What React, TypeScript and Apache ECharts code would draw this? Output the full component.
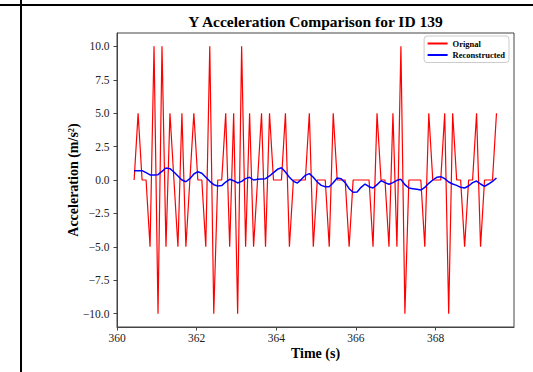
import React, { useEffect, useRef } from "react";
import * as echarts from "echarts";

const chartTitle = "Y Acceleration Comparison for ID 139";
const xAxisName = "Time (s)";
const yAxisName = "Acceleration (m/s²)";
const seriesNames = ["Orignal", "Reconstructed"];

// sampling grid of the recording (10 Hz)
const startTime = 360.43;
const sampleStep = 0.1;

const original = [
  0, 5, 0, 0, -5, 10, -10, 10, -5, 5,
  0, -5, 5, -5, 0, 5, 0, 0, -5, 10,
  -10, 0, 0, 5, -5, 5, -10, 10, -5, 5,
  -5, 0, 5, -5, 5, 0, 0, 0, 5, -5,
  0, 0, 0, 0, 5, -5, 0, 0, 0, -5,
  5, 0, 0, 0, -5, 0, 0, 0, 0, 0,
  -5, 5, 0, 0, -5, 5, -5, 10, -10, 0,
  0, 0, 0, -5, 5, 0, 0, 0, 5, -10,
  5, 0, 0, -5, 0, 0, 5, -5, 0, 0,
  0, 5,
];

const reconstructed = [
  0.7, 0.7, 0.7, 0.55, 0.38, 0.38, 0.4, 0.65, 0.9, 0.85,
  0.6, 0.3, 0.0, -0.13, 0.1, 0.45, 0.62, 0.5, 0.2, -0.1,
  -0.35, -0.45, -0.42, -0.15, 0.05, -0.05, -0.22, -0.1, 0.1, 0.2,
  0.0, 0.05, 0.08, 0.1, 0.3, 0.55, 0.8, 0.92, 0.6, 0.2,
  -0.1, -0.22, 0.05, 0.35, 0.48, 0.2, -0.15, -0.4, -0.5, -0.5,
  -0.2, 0.15, 0.1, -0.2, -0.65, -0.92, -0.9, -0.55, -0.3, -0.5,
  -0.6, -0.35, -0.05, -0.2, -0.32, -0.2, -0.02, 0.05, -0.35, -0.6,
  -0.65, -0.7, -0.75, -0.55, -0.25, 0.0, 0.2, 0.25, 0.1, -0.15,
  -0.3, -0.4, -0.55, -0.6, -0.45, -0.2, -0.08, -0.3, -0.48, -0.3,
  -0.1, 0.15,
];

const xTicks = [360, 362, 364, 366, 368];
const yTicks = [-10, -7.5, -5, -2.5, 0, 2.5, 5, 7.5, 10];

const serif = "'Liberation Serif', 'DejaVu Serif', serif";

export default function App() {
  const ref = useRef<HTMLDivElement>(null);

  useEffect(() => {
    if (!ref.current) return;
    const chart = echarts.init(ref.current, null, { renderer: "svg" });
    const times = original.map((_, i) => +(startTime + i * sampleStep).toFixed(2));
    const origData = original.map((v, i) => [times[i], v]);
    const recData = reconstructed.map((v, i) => [times[i], v]);

    const fmtY = (v: number) => (v < 0 ? "\u2212" : "") + Math.abs(v).toFixed(1);

    chart.setOption({
      animation: false,
      backgroundColor: "#fff",
      color: ["#ff0000", "#0000ff"],
      graphic: [
        { type: "line", shape: { x1: 0, y1: 5, x2: 533, y2: 5 }, style: { stroke: "#000", lineWidth: 2 } },
        { type: "line", shape: { x1: 21, y1: 0, x2: 21, y2: 372 }, style: { stroke: "#000", lineWidth: 2 } },
        {
          type: "text",
          x: 315.5,
          y: 21,
          style: {
            text: chartTitle,
            fontFamily: serif,
            fontWeight: "bold",
            fontSize: 15.5,
            fill: "#000",
            align: "center",
            verticalAlign: "middle",
          },
        },
      ],
      grid: {
        left: 117,
        top: 33,
        width: 397,
        height: 294,
        show: true,
        borderColor: "#444",
        borderWidth: 1,
        backgroundColor: "transparent",
      },
      legend: {
        orient: "vertical",
        right: 24,
        top: 36,
        icon: "rect",
        itemWidth: 20,
        itemHeight: 2,
        itemGap: 2.5,
        padding: [3, 4, 3, 3.5],
        backgroundColor: "rgba(255,255,255,0.8)",
        borderColor: "#ccc",
        borderWidth: 1,
        borderRadius: 3,
        textStyle: { fontFamily: serif, fontWeight: "bold", fontSize: 8.5, color: "#000" },
        data: seriesNames,
      },
      xAxis: {
        type: "value",
        min: 360,
        max: 369.97,
        name: xAxisName,
        nameLocation: "middle",
        nameGap: 19,
        nameMoveOverlap: false,
        nameTextStyle: { fontFamily: serif, fontWeight: "bold", fontSize: 14, color: "#000" },
        axisLine: { show: true, onZero: false, lineStyle: { color: "#444", width: 1 } },
        axisTick: { show: true, length: 3.5, lineStyle: { color: "#444" }, customValues: xTicks },
        axisLabel: { customValues: xTicks, fontFamily: serif, fontSize: 11.5, color: "#222", margin: 5 },
        splitLine: { show: false },
      },
      yAxis: {
        type: "value",
        min: -11,
        max: 11,
        name: yAxisName,
        nameLocation: "middle",
        nameRotate: 90,
        nameGap: 37,
        nameMoveOverlap: false,
        nameTextStyle: { fontFamily: serif, fontWeight: "bold", fontSize: 14, color: "#000" },
        axisLine: { show: true, onZero: false, lineStyle: { color: "#444", width: 1 } },
        axisTick: { show: true, length: 3.5, lineStyle: { color: "#444" }, customValues: yTicks },
        axisLabel: {
          customValues: yTicks,
          fontFamily: serif,
          fontSize: 11.5,
          color: "#222",
          margin: 7.5,
          formatter: (v: number) => fmtY(v),
        },
        splitLine: { show: false },
      },
      series: [
        {
          name: seriesNames[0],
          type: "line",
          data: origData,
          showSymbol: false,
          symbol: "none",
          lineStyle: { color: "#ff0000", width: 1.2 },
          itemStyle: { color: "#ff0000" },
        },
        {
          name: seriesNames[1],
          type: "line",
          data: recData,
          showSymbol: false,
          symbol: "none",
          lineStyle: { color: "#0000ff", width: 1.5 },
          itemStyle: { color: "#0000ff" },
          z: 3,
        },
      ],
    });

    return () => chart.dispose();
  }, []);

  return (
    <div
      ref={ref}
      style={{ position: "fixed", left: 0, top: 0, width: 533, height: 372 }}
    />
  );
}
